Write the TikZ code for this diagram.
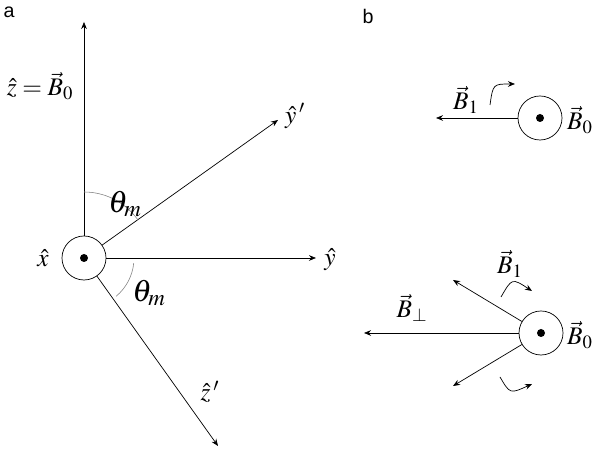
\documentclass[tikz,border=0pt]{standalone}
\usepackage{amsmath}
\usepackage{mathptmx}
\usepackage[no-math]{fontspec}
\newfontfamily\panelfont{Liberation Sans}
\usetikzlibrary{arrows.meta, calc}

\begin{document}
\begin{tikzpicture}[x=0.025cm, y=0.025cm,
    vec/.style={-{Stealth[length=5pt,width=4pt]}, line width=0.5pt},
    axis/.style={circle, draw, line width=0.5pt, minimum size=1.1cm, inner sep=0pt},
    lbl/.style={inner sep=0pt, font=\fontsize{18}{20}\selectfont},
    angl/.style={inner sep=0pt, font=\fontsize{22}{24}\selectfont},
    panel/.style={font=\fontsize{14}{16}\panelfont}]
    \useasboundingbox (0,0) rectangle (600,452);
    % panel a
    \node[panel] (pa) at (9,440) {a};
    \node[axis] (O1) at (84,194) {};
    \fill (O1) circle (4);
    \coordinate (zt) at (84,430);
    \coordinate (ypt) at (278,332);
    \coordinate (yt) at (316,194);
    \coordinate (zpt) at (218,6);
    \draw[vec] (O1) -- (zt);
    \draw[vec] (O1) -- (ypt);
    \draw[vec] (O1) -- (yt);
    \draw[vec] (O1) -- (zpt);
    \draw[gray, line width=0.4pt] ($(O1)+(90:66)$) arc[start angle=90, end angle=36, radius=66];
    \draw[gray, line width=0.4pt] ($(O1)+(-6:50)$) arc[start angle=-6, end angle=-50, radius=50];
    \node[lbl] (lz) at (40,366) {$\hat{z}=\vec{B}_0$};
    \node[lbl] (lx) at (43,194) {$\hat{x}$};
    \node[lbl] (ly) at (330,192) {$\hat{y}$};
    \node[lbl] (lyp) at (295,336) {$\hat{y}\,'$};
    \node[lbl] (lzp) at (210,60) {$\hat{z}\,'$};
    \node[angl] (th1) at (125,248) {$\theta_m$};
    \node[angl] (th2) at (149,159) {$\theta_m$};
    % panel b, top
    \node[panel] (pb) at (368,436) {b};
    \node[axis] (O2) at (540,334) {};
    \fill (O2) circle (4);
    \coordinate (b1t) at (436,334);
    \draw[vec] (O2) -- (b1t);
    \coordinate (r1s) at (490,347);
    \coordinate (r1e) at (515,368);
    \draw[vec] (r1s) .. controls (493,368) .. (r1e);
    \node[lbl] (lb1) at (466,352) {$\vec{B}_1$};
    \node[lbl] (lb0) at (580,332) {$\vec{B}_0$};
    % panel b, bottom
    \node[axis] (O3) at (541,119) {};
    \fill (O3) circle (4);
    \coordinate (bpt) at (364,119);
    \coordinate (bu) at (453,172);
    \coordinate (bd) at (453,66);
    \draw[vec] (O3) -- (bpt);
    \draw[vec] (O3) -- (bu);
    \draw[vec] (O3) -- (bd);
    \coordinate (r2s) at (501,155);
    \coordinate (r2e) at (532,161);
    \coordinate (r3s) at (500,75);
    \coordinate (r3e) at (532,68);
    \draw[vec] (r2s) .. controls (512,174) .. (r2e);
    \draw[vec] (r3s) .. controls (510,58) .. (r3e);
    \node[lbl] (lbp) at (412,144) {$\vec{B}_\perp$};
    \node[lbl] (lb1b) at (510,188) {$\vec{B}_1$};
    \node[lbl] (lb0b) at (580,117) {$\vec{B}_0$};
\end{tikzpicture}
\end{document}
